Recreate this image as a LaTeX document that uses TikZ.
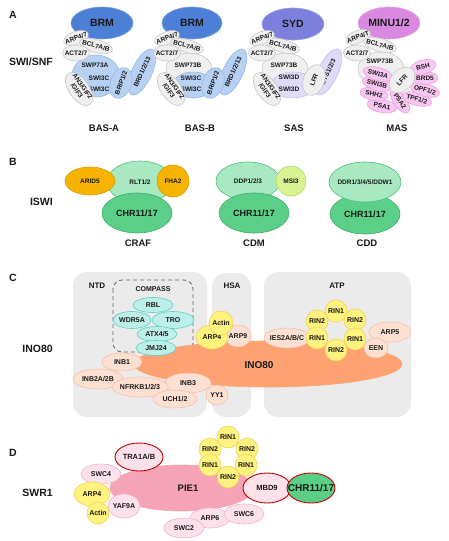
\documentclass[tikz,border=0pt]{standalone}
\usepackage{fontspec}
\setmainfont{Liberation Sans}
\usetikzlibrary{shapes.geometric}
\definecolor{greyF}{HTML}{EFEFEF}\definecolor{greyD}{HTML}{C9C9C9}
\definecolor{brmF}{HTML}{4E7FD6}\definecolor{brmD}{HTML}{7EA3E2}
\definecolor{bluF}{HTML}{B7D1F2}\definecolor{bluD}{HTML}{98B9EA}
\definecolor{sydF}{HTML}{7C80DC}\definecolor{sydD}{HTML}{9EA0E6}
\definecolor{lavF}{HTML}{DEDBF8}\definecolor{lavD}{HTML}{C5C0F0}
\definecolor{minuF}{HTML}{D98AE0}\definecolor{minuD}{HTML}{E2A8E8}
\definecolor{pinkF}{HTML}{F9C7F2}\definecolor{pinkD}{HTML}{EAA0E2}
\definecolor{glF}{HTML}{A9E9C2}\definecolor{glD}{HTML}{4DBF7C}
\definecolor{gdF}{HTML}{5BCF88}\definecolor{gdD}{HTML}{3DAE6A}
\definecolor{orgF}{HTML}{F6B300}\definecolor{orgD}{HTML}{D69A00}
\definecolor{msiF}{HTML}{D9F294}\definecolor{msiD}{HTML}{B6D76A}
\definecolor{tealF}{HTML}{BDEFE9}\definecolor{tealD}{HTML}{5FCFC2}
\definecolor{inoF}{HTML}{FFA271}
\definecolor{salF}{HTML}{FDE0D2}\definecolor{salD}{HTML}{F4C1A9}
\definecolor{yelF}{HTML}{FFF27E}\definecolor{yelD}{HTML}{F2D35A}
\definecolor{pieF}{HTML}{F7A3B7}
\definecolor{lpkF}{HTML}{FCE1EA}\definecolor{lpkD}{HTML}{F1B3C9}
\definecolor{dred}{HTML}{C00000}
\definecolor{panelC}{HTML}{EBEBEB}
\definecolor{txt}{HTML}{1A1A1A}
\newcommand\zb[1]{\makebox[0pt]{#1}}
\newcommand\twoln[2]{\makebox[0pt]{\begin{tabular}{@{}c@{}}#1\\#2\end{tabular}}}
\tikzset{
 el/.style={ellipse, draw, line width=0.6pt, inner sep=0pt, text=txt, font=\bfseries\fontsize{6.5}{7}\selectfont},
 sz/.style 2 args={minimum width=#1pt, minimum height=#2pt},
 greyel/.style={el, fill=greyF, draw=greyD},
 bluel/.style={el, fill=bluF, draw=bluD},
 lavel/.style={el, fill=lavF, draw=lavD},
 pinkel/.style={el, fill=pinkF, draw=pinkD},
 topel/.style={el, font=\bfseries\fontsize{10.5}{12}\selectfont},
 glel/.style={el, fill=glF, draw=glD},
 gdel/.style={el, fill=gdF, draw=gdD, font=\bfseries\fontsize{9}{10}\selectfont},
 orgel/.style={el, fill=orgF, draw=orgD},
 tealel/.style={el, fill=tealF, draw=tealD, font=\bfseries\fontsize{7}{8}\selectfont},
 salel/.style={el, fill=salF, draw=salD, font=\bfseries\fontsize{7}{8}\selectfont},
 yelel/.style={el, fill=yelF, draw=yelD, font=\bfseries\fontsize{7}{8}\selectfont},
 lpkel/.style={el, fill=lpkF, draw=lpkD, font=\bfseries\fontsize{7}{8}\selectfont},
 redel/.style={el, fill=lpkF, draw=dred, line width=0.9pt, font=\bfseries\fontsize{7.5}{8}\selectfont},
 plain/.style={inner sep=0pt, text=txt, font=\bfseries\fontsize{6.5}{7}\selectfont},
 letter/.style={inner sep=0pt, text=txt, font=\bfseries\fontsize{10.5}{12}\selectfont},
 biglab/.style={inner sep=0pt, anchor=east, text=txt, font=\bfseries\fontsize{10.5}{12}\selectfont},
 sublab/.style={inner sep=0pt, text=txt, font=\bfseries\fontsize{9.5}{11}\selectfont},
 paneltitle/.style={inner sep=0pt, text=txt, font=\bfseries\fontsize{8}{9}\selectfont},
 panel/.style={fill=panelC, rounded corners=14pt},
 rin/.style={yelel, sz={22}{22}},
}
\begin{document}
\begin{tikzpicture}[x=1pt,y=-1pt]
\useasboundingbox[fill=white] (0,0) rectangle (448,541);
% ---------------- A ----------------
\node[letter] (lA) at (13,15) {A};
\node[biglab] (swisnf) at (53,62) {SWI/SNF};
% BAS-A
\begin{scope}[shift={(104,0)}]
\node[topel, fill=brmF, draw=brmD, sz={62}{32}] (a1top) at (-2,23) {BRM};
\node[bluel, sz={48}{42}] (a1body) at (-8,76) {};
\node[greyel, sz={26}{13}, rotate=20] (a1arp) at (-28,38) {\zb{ARP4/7}};
\node[greyel, sz={34}{13}, rotate=-15] (a1bcl) at (-8,46) {\zb{BCL7A/B}};
\node[greyel, sz={27}{16}] (a1act) at (-28,53) {\zb{ACT2/7}};
\node[plain] (a1swp) at (-9,65) {SWP73A};
\node[plain] (a1s1) at (-5,78) {SWI3C};
\node[plain] (a1s2) at (-5,89) {SWI3C};
\node[greyel, sz={38}{20}, rotate=-55] (a1an3) at (-25,89) {\twoln{AN3/GIF2}{/GIF3}};
\node[bluel, sz={50}{20}, rotate=65] (a1brd) at (38,72) {\zb{BRD1/2/13}};
\node[bluel, sz={32}{21}, rotate=70] (a1brip) at (17,83) {\zb{BRIP1/2}};
\node[sublab] (a1lab) at (0,128) {BAS-A};
\end{scope}
% BAS-B
\begin{scope}[shift={(195,0)}]
\node[topel, fill=brmF, draw=brmD, sz={60}{32}] (a2top) at (-3,23) {BRM};
\node[greyel, sz={46}{32}] (a2body) at (-6,69) {};
\node[bluel, sz={40}{26}] (a2low) at (-2,85) {};
\node[greyel, sz={26}{13}, rotate=20] (a2arp) at (-28,38) {\zb{ARP4/7}};
\node[greyel, sz={34}{13}, rotate=-15] (a2bcl) at (-8,46) {\zb{BCL7A/B}};
\node[greyel, sz={27}{16}] (a2act) at (-28,53) {\zb{ACT2/7}};
\node[plain] (a2swp) at (-7,65) {SWP73B};
\node[plain] (a2s1) at (-4,78) {SWI3C};
\node[plain] (a2s2) at (-4,89) {SWI3C};
\node[greyel, sz={38}{20}, rotate=-55] (a2an3) at (-24,89) {\twoln{AN3/GIF2}{/GIF3}};
\node[bluel, sz={50}{20}, rotate=65] (a2brd) at (38,72) {\zb{BRD1/2/13}};
\node[bluel, sz={32}{21}, rotate=70] (a2brip) at (18,83) {\zb{BRIP1/2}};
\node[sublab] (a2lab) at (5,128) {BAS-B};
\end{scope}
% SAS
\begin{scope}[shift={(291,0)}]
\node[topel, fill=sydF, draw=sydD, sz={62}{32}] (a3top) at (2,24) {SYD};
\node[greyel, sz={46}{32}] (a3body) at (-6,69) {};
\node[lavel, sz={44}{26}] (a3low) at (2,85) {};
\node[greyel, sz={26}{13}, rotate=20] (a3arp) at (-29,38) {\zb{ARP4/7}};
\node[greyel, sz={34}{13}, rotate=-15] (a3bcl) at (-8,46) {\zb{BCL7A/B}};
\node[greyel, sz={27}{16}] (a3act) at (-29,53) {\zb{ACT2/7}};
\node[plain] (a3swp) at (-7,65) {SWP73B};
\node[plain] (a3s1) at (-2,77) {SWI3D};
\node[plain] (a3s2) at (-2,89) {SWI3D};
\node[greyel, sz={38}{20}, rotate=-55] (a3an3) at (-24,89) {\twoln{AN3/GIF2}{/GIF3}};
\node[lavel, sz={50}{20}, rotate=65] (a3sys) at (37,72) {\zb{SYS1/2/3}};
\node[greyel, sz={32}{21}, rotate=70] (a3lfr) at (23,80) {\zb{LFR}};
\node[sublab] (a3lab) at (3,128) {SAS};
\end{scope}
% MAS
\begin{scope}[shift={(386,0)}]
\node[topel, fill=minuF, draw=minuD, sz={62}{32}] (a4top) at (3,23) {MINU1/2};
\node[greyel, sz={46}{34}] (a4body) at (-5,69) {};
\node[greyel, sz={26}{13}, rotate=20] (a4arp) at (-28,37) {\zb{ARP4/T}};
\node[greyel, sz={34}{13}, rotate=-15] (a4bcl) at (-6,45) {\zb{BCL7A/B}};
\node[greyel, sz={27}{16}] (a4act) at (-29,53) {\zb{ACT2/7}};
\node[plain] (a4swp) at (-6,61) {SWP73B};
\node[pinkel, sz={30}{13}, rotate=-10] (a4psa1) at (-4,106) {\zb{PSA1}};
\node[pinkel, sz={28}{13}, rotate=-10] (a4shh) at (-12,94) {\zb{SHH2}};
\node[pinkel, sz={30}{13}, rotate=-15] (a4sb) at (-9,84) {\zb{SWI3B}};
\node[pinkel, sz={30}{13}, rotate=-15] (a4sa) at (-8,74) {\zb{SWI3A}};
\node[pinkel, sz={28}{13}, rotate=-55] (a4psa2) at (14,101) {\zb{PSA2}};
\node[pinkel, sz={30}{13}, rotate=-15] (a4tpf) at (31,99) {\zb{TPF1/2}};
\node[pinkel, sz={30}{13}, rotate=-15] (a4opf) at (39,90) {\zb{OPF1/2}};
\node[pinkel, sz={26}{13}] (a4brd) at (39,78) {\zb{BRD5}};
\node[pinkel, sz={26}{14}, rotate=15] (a4bsh) at (37,67) {\zb{BSH}};
\node[greyel, sz={30}{21}, rotate=45] (a4lfr) at (16,80) {\zb{LFR}};
\node[sublab] (a4lab) at (11,128) {MAS};
\end{scope}
% ---------------- B ----------------
\node[letter] (lB) at (13,162) {B};
\node[biglab] (iswi) at (53,202) {ISWI};
\node[glel, sz={66}{42}] (rlt) at (140,182) {RLT1/2};
\node[gdel, sz={70}{40}] (chr1) at (137,213) {CHR11/17};
\node[orgel, sz={50}{28}] (arid) at (90,181) {ARID5};
\node[orgel, sz={32}{32}] (fha) at (173,181) {FHA2};
\node[sublab] (craf) at (138,243) {CRAF};
\node[glel, sz={64}{38}] (ddp) at (248,181) {DDP1/2/3};
\node[el, fill=msiF, draw=msiD, sz={30}{30}] (msi) at (291,181) {MSI3};
\node[gdel, sz={70}{40}] (chr2) at (254,213) {CHR11/17};
\node[sublab] (cdm) at (254,243) {CDM};
\node[gdel, sz={70}{40}] (chr3) at (365,214) {CHR11/17};
\node[glel, sz={72}{40}] (ddr) at (365,182) {\zb{DDR1/3/4/5/DDW1}};
\node[sublab] (cdd) at (367,243) {CDD};
% ---------------- C ----------------
\node[letter] (lC) at (13,278) {C};
\node[biglab] (ino) at (53,349) {INO80};
\fill[panel] (73,272) rectangle (207,417);
\fill[panel] (212,273) rectangle (251,417);
\fill[panel] (264,272) rectangle (411,417);
\node[paneltitle] (ntd) at (97,286) {NTD};
\node[paneltitle] (hsa) at (232,286) {HSA};
\node[paneltitle] (atp) at (337,286) {ATP};
\draw[black!60, dashed, line width=0.8pt, dash pattern=on 4pt off 3pt, rounded corners=9pt] (113,280) rectangle (193,352);
\node[paneltitle, font=\bfseries\fontsize{7}{8}\selectfont] (compass) at (153,289) {COMPASS};
\node[el, fill=inoF, draw=inoF, sz={268}{46}, font=\bfseries\fontsize{10}{12}\selectfont] (ino80) at (268,364) {};
\node[inner sep=0pt, text=txt, font=\bfseries\fontsize{10}{12}\selectfont] (ino80t) at (259,365) {INO80};
\node[tealel, sz={40}{15}] (rbl) at (153,305) {RBL};
\node[tealel, sz={42}{17}] (tro) at (173,320) {\zb{TRO}};
\node[tealel, sz={38}{17}] (wdr) at (132,320) {\zb{WDR5A}};
\node[tealel, sz={40}{15}] (atx) at (157,334) {\zb{ATX4/5}};
\node[tealel, sz={40}{15}] (jmj) at (156,348) {\zb{JMJ24}};
\node[salel, sz={40}{18}] (inb1) at (122,362) {\zb{INB1}};
\node[salel, sz={50}{20}] (inb2) at (98,379) {\zb{INB2A/2B}};
\node[salel, sz={46}{20}] (inb3) at (188,383) {\zb{INB3}};
\node[salel, sz={56}{20}] (nfrkb) at (140,387) {\zb{NFRKB1/2/3}};
\node[salel, sz={44}{18}] (uch) at (175,399) {\zb{UCH1/2}};
\node[salel, sz={22}{20}] (yy1) at (217,395) {\zb{YY1}};
\node[salel, sz={26}{22}] (arp9) at (238,336) {\zb{ARP9}};
\node[yelel, sz={32}{24}] (arp4c) at (212,337) {\zb{ARP4}};
\node[yelel, sz={24}{24}] (actc) at (221,323) {\zb{Actin}};
\node[salel, sz={46}{20}] (ies) at (287,338) {\zb{IES2A/B/C}};
\node[salel, sz={42}{20}] (arp5) at (390,332) {\zb{ARP5}};
\node[salel, sz={24}{20}] (een) at (376,348) {\zb{EEN}};
\node[rin] (c1) at (336,311) {\zb{RIN1}};
\node[rin] (c2) at (317,321) {\zb{RIN2}};
\node[rin] (c3) at (355,320) {\zb{RIN2}};
\node[rin] (c4) at (317,338) {\zb{RIN1}};
\node[rin] (c5) at (355,339) {\zb{RIN1}};
\node[rin] (c6) at (336,350) {\zb{RIN2}};
% ---------------- D ----------------
\node[letter] (lD) at (13,453) {D};
\node[biglab] (swr) at (53,493) {SWR1};
\node[el, fill=pieF, draw=pieF, sz={144}{46}, font=\bfseries\fontsize{9.5}{11}\selectfont] (pie) at (182,488) {};
\node[inner sep=0pt, text=txt, font=\bfseries\fontsize{9.5}{11}\selectfont] (piet) at (188,488) {PIE1};
\node[redel, sz={48}{28}] (tra) at (139,457) {\zb{TRA1A/B}};
\node[lpkel, sz={40}{20}] (swc4) at (101,474) {\zb{SWC4}};
\node[yelel, sz={36}{24}] (arp4d) at (92,494) {\zb{ARP4}};
\node[yelel, sz={22}{22}] (actd) at (98,513) {\zb{Actin}};
\node[lpkel, sz={32}{24}] (yaf) at (124,506) {\zb{YAF9A}};
\node[lpkel, sz={40}{20}] (arp6) at (210,518) {\zb{ARP6}};
\node[lpkel, sz={40}{20}] (swc2) at (184,528) {\zb{SWC2}};
\node[lpkel, sz={40}{20}] (swc6) at (244,514) {\zb{SWC6}};
\node[rin] (d1) at (228,437) {\zb{RIN1}};
\node[rin] (d2) at (210,449) {\zb{RIN2}};
\node[rin] (d3) at (247,449) {\zb{RIN2}};
\node[rin] (d4) at (210,465) {\zb{RIN1}};
\node[rin] (d5) at (246,465) {\zb{RIN1}};
\node[rin] (d6) at (228,477) {\zb{RIN2}};
\node[redel, sz={48}{30}] (mbd) at (267,488) {\zb{MBD9}};
\node[redel, fill=gdF, sz={48}{30}, font=\bfseries\fontsize{10}{12}\selectfont] (chr4) at (311,488) {\zb{CHR11/17}};
\end{tikzpicture}
\end{document}
